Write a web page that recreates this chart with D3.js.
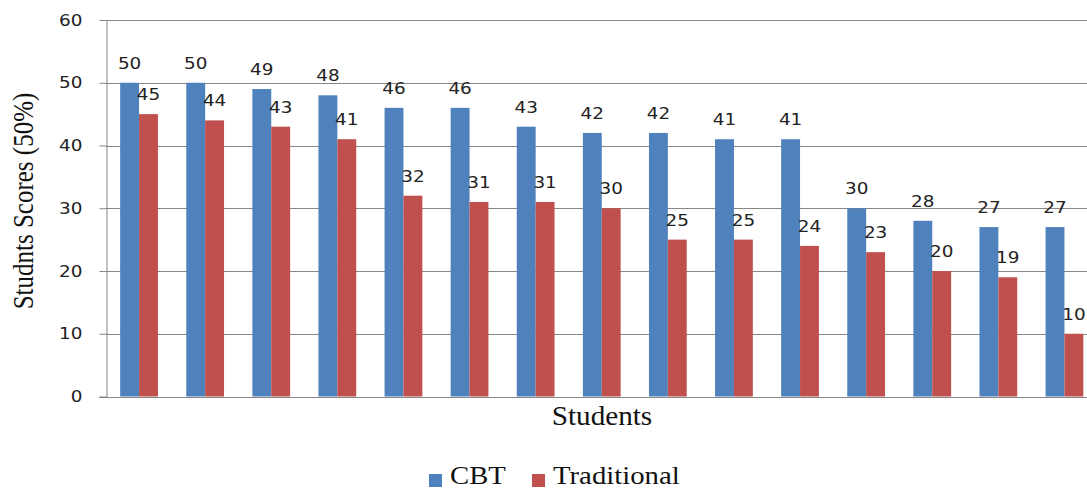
<!DOCTYPE html>
<html>
<head>
<meta charset="utf-8">
<script src="https://cdn.jsdelivr.net/npm/d3@7"></script>
<style>
  html, body { margin: 0; padding: 0; background: #fff; }
  svg { display: block; }
</style>
</head>
<body>
<svg id="chart" width="1087" height="490"></svg>
<script>
const categories = ["S1","S2","S3","S4","S5","S6","S7","S8","S9","S10","S11","S12","S13","S14","S15"];
const seriesNames = ["CBT", "Traditional"];
const cbtValues = [50, 50, 49, 48, 46, 46, 43, 42, 42, 41, 41, 30, 28, 27, 27];
const traditionalValues = [45, 44, 43, 41, 32, 31, 31, 30, 25, 25, 24, 23, 20, 19, 10];
const yTicks = [0, 10, 20, 30, 40, 50, 60];
const yTitle = "Studnts Scores (50%)";
const xTitle = "Students";

const colors = { "CBT": "#4F81BD", "Traditional": "#C0504D" };
const seriesValues = { "CBT": cbtValues, "Traditional": traditionalValues };
const SX = 1.15; // horizontal stretch seen in the reference text

const svg = d3.select("#chart");
const left = 106, bandW = 66.1;
const x = d3.scaleBand().domain(categories).range([left, left + categories.length * bandW]).padding(0);
const x1 = d3.scaleBand().domain(seriesNames).range([0, x.bandwidth()]).paddingInner(0).paddingOuter(0.75);
const y = d3.scaleLinear().domain([0, 60]).range([396.5, 20]);

// gridlines
svg.append("g").selectAll("line").data(yTicks.filter(d => d > 0)).join("line")
  .attr("x1", left).attr("x2", 1087)
  .attr("y1", d => Math.round(y(d)) + 0.5).attr("y2", d => Math.round(y(d)) + 0.5)
  .attr("stroke", "#878787").attr("stroke-width", 1);

// y axis
const yAxis = d3.axisLeft(y).tickValues(yTicks).tickSize(7).tickPadding(17).tickSizeOuter(0);
const gy = svg.append("g").attr("transform", `translate(${left + 0.5},0)`).call(yAxis);
gy.select(".domain").attr("stroke", "#878787");
gy.selectAll(".tick line").attr("stroke", "#878787");
gy.selectAll(".tick text").attr("font-family", "DejaVu Sans").attr("font-size", 16).attr("fill", "#222")
  .attr("transform", `translate(-24,0) scale(${SX},1)`).attr("x", 0);

// bars
const rows = categories.map((c, i) => seriesNames.map(s => ({ cat: c, s, v: seriesValues[s][i] })));
const groups = svg.append("g").selectAll("g").data(rows).join("g")
  .attr("transform", (d, i) => `translate(${x(categories[i])},0)`);
groups.selectAll("rect").data(d => d).join("rect")
  .attr("x", d => x1(d.s)).attr("width", x1.bandwidth())
  .attr("y", d => y(d.v)).attr("height", d => y(0) - y(d.v))
  .attr("fill", d => colors[d.s]);
groups.selectAll("text").data(d => d).join("text")
  .attr("transform", d => `translate(${x1(d.s) + x1.bandwidth() / 2},${y(d.v) - 14}) scale(${SX},1)`)
  .attr("text-anchor", "middle")
  .attr("font-family", "DejaVu Sans").attr("font-size", 16).attr("fill", "#222")
  .text(d => d.v);

// x baseline
svg.append("line").attr("x1", left - 7).attr("x2", 1087)
  .attr("y1", Math.round(y(0)) + 0.5).attr("y2", Math.round(y(0)) + 0.5)
  .attr("stroke", "#878787");

// titles
svg.append("text").attr("transform", `translate(33,201) rotate(-90) scale(1,${SX})`)
  .attr("text-anchor", "middle").attr("font-family", "Liberation Serif").attr("font-size", 25).attr("fill", "#111")
  .text(yTitle);
svg.append("text").attr("transform", "translate(602,425) scale(1.08,1)")
  .attr("text-anchor", "middle").attr("font-family", "Liberation Serif").attr("font-size", 27).attr("fill", "#111")
  .text(xTitle);

// legend
const legendPos = { "CBT": 429, "Traditional": 532 };
const lg = svg.append("g").selectAll("g").data(seriesNames).join("g")
  .attr("transform", d => `translate(${legendPos[d]},0)`);
lg.append("rect").attr("x", 0).attr("y", 474).attr("width", 13).attr("height", 13).attr("fill", d => colors[d]);
lg.append("text").attr("transform", `translate(21,484) scale(${SX},1)`)
  .attr("font-family", "Liberation Serif").attr("font-size", 25).attr("fill", "#111")
  .text(d => d);
</script>
</body>
</html>
